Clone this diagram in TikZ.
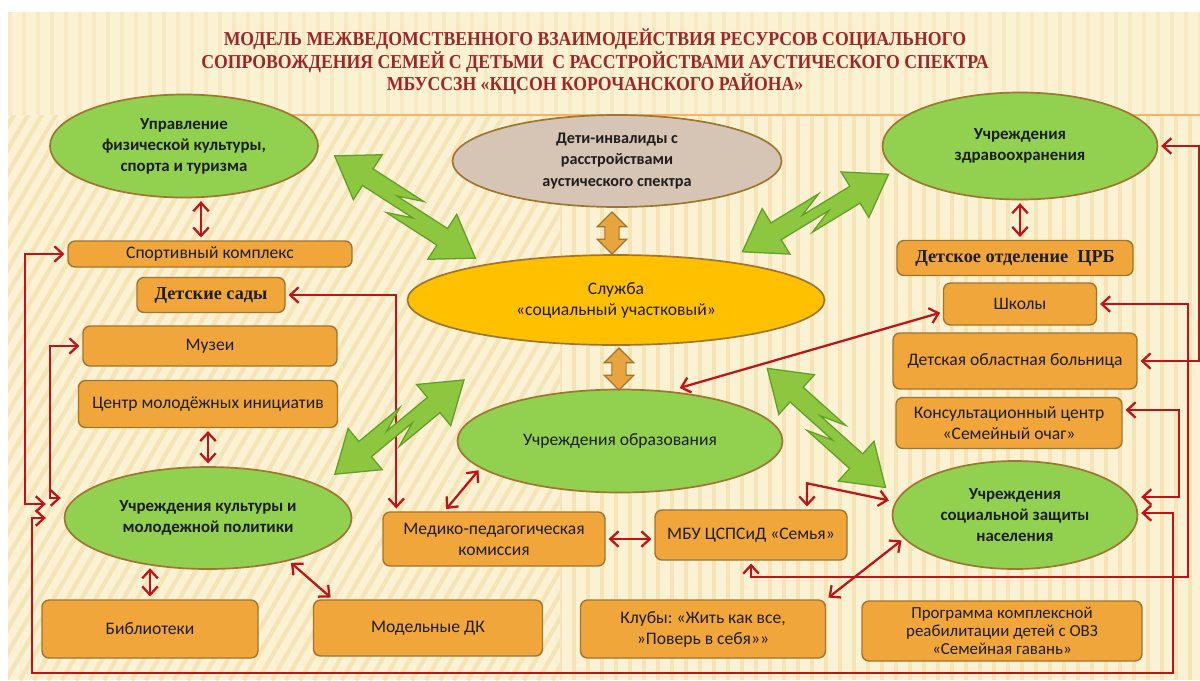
\documentclass[tikz,border=0pt]{standalone}
\usepackage{fontspec}
\setmainfont{Carlito}
\newfontfamily\titlefont[FakeStretch=0.9]{Liberation Serif}
\newfontfamily\boxserif{Liberation Serif}
\usetikzlibrary{shapes.geometric, shapes.arrows, arrows.meta, calc}
\definecolor{bgcream}{RGB}{251,241,211}
\definecolor{stripe}{RGB}{245,228,184}
\definecolor{ellgreen}{RGB}{146,208,80}
\definecolor{rimbrown}{RGB}{158,118,48}
\definecolor{boxorange}{RGB}{240,166,58}
\definecolor{sluzhyellow}{RGB}{255,192,0}
\definecolor{detitaupe}{RGB}{214,196,180}
\definecolor{arrred}{RGB}{190,20,24}
\definecolor{boltgreen}{RGB}{141,198,63}
\definecolor{boltrim}{RGB}{98,158,42}
\definecolor{titlered}{RGB}{158,38,38}
\definecolor{arrorange}{RGB}{232,164,62}
\definecolor{inktext}{RGB}{30,30,30}
\newlength\pxl
\setlength\pxl{0.025cm}

\tikzset{
  ell/.style={ellipse, draw=rimbrown, line width=1.2pt, fill=ellgreen, align=center, inner sep=0pt, text=inktext, font=\fontsize{12.5}{15}\selectfont},
  ellb/.style={ell, font=\bfseries\fontsize{12}{15}\selectfont},
  box/.style={rectangle, rounded corners=5pt, draw=rimbrown, line width=1pt, fill=boxorange, align=center, inner sep=0pt, text=inktext, font=\fontsize{12.5}{15}\selectfont},
  sbox/.style={box, font=\boxserif\bfseries\fontsize{13}{15}\selectfont},
  con/.style={draw=arrred, line width=1.6pt, shorten >=2pt, shorten <=2pt},
  darr/.style={double arrow, rotate=90, draw=rimbrown, line width=0.8pt, fill=arrorange, inner sep=4.2pt, minimum width=21pt, double arrow head extend=5pt},
  bolt/.style={draw=boltrim, line width=0.9pt, fill=boltgreen, line join=miter},
  pics/zig/.style={code={
    \pgfmathsetmacro\bl{#1}
    \pgfmathsetmacro\bm{#1/2}
    \filldraw[bolt, yshift=3.5pt] (0pt,0pt) -- (28pt,19pt) -- (28pt,7pt) -- ({(\bm+9)*1pt},7pt) -- ({(\bm-9)*1pt},0pt) -- ({(\bl-28)*1pt},0pt) -- ({(\bl-28)*1pt},12pt) -- ({\bl*1pt},-7pt) -- ({(\bl-28)*1pt},-26pt) -- ({(\bl-28)*1pt},-14pt) -- ({(\bm-9)*1pt},-14pt) -- ({(\bm+9)*1pt},-7pt) -- (28pt,-7pt) -- (28pt,-19pt) -- cycle;
  }}
}

\begin{document}
\frenchspacing
\begin{tikzpicture}[x=0.025cm, y=-0.025cm, >={Straight Barb[length=6pt,width=11pt]}]
\useasboundingbox (0,0) rectangle (1200,680);
\fill[white] (0,0) rectangle (1200,680);
\fill[bgcream] (8,12) rectangle (1200,680);
\begin{scope}
\clip (8,115) rectangle (560,680);
\foreach \i in {0,...,70}
  \draw[stripe, line width=3pt] ({\i*14-400},680) -- ({\i*14-10},12);
\end{scope}
\begin{scope}
\clip (560,115) rectangle (1200,680);
\foreach \i in {0,...,46}
  \draw[stripe, line width=3pt] ({560+\i*14},115) -- ({560+\i*14},680);
\end{scope}
\begin{scope}
\clip (8,12) rectangle (1200,115);
\foreach \i in {0,...,85}
  \draw[stripe!60!bgcream, line width=3pt] ({10+\i*14},12) -- ({10+\i*14},115);
\end{scope}
\draw[orange!55!bgcream, line width=1pt] (290,115) -- (1200,115);

\node (title)[align=center, text=titlered, font=\titlefont\bfseries\fontsize{14}{14.7}\selectfont] at (595,62){МОДЕЛЬ МЕЖВЕДОМСТВЕННОГО ВЗАИМОДЕЙСТВИЯ РЕСУРСОВ СОЦИАЛЬНОГО\\СОПРОВОЖДЕНИЯ СЕМЕЙ С ДЕТЬМИ~ С РАССТРОЙСТВАМИ АУСТИЧЕСКОГО СПЕКТРА\\МБУССЗН «КЦСОН КОРОЧАНСКОГО РАЙОНА»};

\node (upr)[ellb, minimum width=268\pxl, minimum height=103\pxl] at (184,146){Управление\\физической культуры,\\спорта и туризма};
\node (deti)[ellb, fill=detitaupe, minimum width=329\pxl, minimum height=92\pxl, font=\bfseries\fontsize{11.5}{15}\selectfont] at (617,161){Дети-инвалиды с\\расстройствами\\аустического спектра};
\node (zdrav)[ellb, minimum width=275\pxl, minimum height=107\pxl] at (1020,146){Учреждения\\здравоохранения};
\node (sluzh)[ell, fill=sluzhyellow, minimum width=417\pxl, minimum height=90\pxl] at (616,300){Служба\\«социальный участковый»};
\node (obraz)[ell, minimum width=325\pxl, minimum height=103\pxl] at (620,441){Учреждения образования};
\node (kult)[ellb, minimum width=287\pxl, minimum height=102\pxl] at (208,518){Учреждения культуры и\\молодежной политики};
\node (socz)[ellb, minimum width=245\pxl, minimum height=108\pxl] at (1015,515){Учреждения\\социальной защиты\\населения};

\node (sport)[box, minimum width=284\pxl, minimum height=26\pxl] at (210,254){Спортивный комплекс};
\node (detsad)[sbox, minimum width=148\pxl, minimum height=35\pxl] at (211,295){Детские сады};
\node (muzei)[box, minimum width=254\pxl, minimum height=40\pxl] at (210,346){Музеи};
\node (centr)[box, minimum width=259\pxl, minimum height=47\pxl] at (208,404){Центр молодёжных инициатив};
\node (bibl)[box, minimum width=216\pxl, minimum height=58\pxl] at (150,629){Библиотеки};
\node (dk)[box, minimum width=229\pxl, minimum height=56\pxl] at (428,628){Модельные ДК};
\node (medko)[box, minimum width=222\pxl, minimum height=54\pxl] at (494,539){Медико-педагогическая\\комиссия};
\node (semya)[box, minimum width=192\pxl, minimum height=50\pxl] at (751,535){МБУ ЦСПСиД «Семья»};
\node (kluby)[box, minimum width=245\pxl, minimum height=58\pxl] at (703,629){Клубы: «Жить как все,\\»Поверь в себя»»};
\node (progr)[box, minimum width=280\pxl, minimum height=60\pxl, font=\fontsize{12}{13}\selectfont] at (1002,631){Программа комплексной\\реабилитации детей с ОВЗ\\«Семейная гавань»};
\node (crb)[sbox, minimum width=236\pxl, minimum height=35\pxl] at (1015,258){Детское отделение~ ЦРБ};
\node (shkoly)[box, minimum width=153\pxl, minimum height=42\pxl] at (1020,304){Школы};
\node (bolnica)[box, minimum width=244\pxl, minimum height=56\pxl] at (1015,361){Детская областная больница};
\node (konsult)[box, minimum width=226\pxl, minimum height=51\pxl] at (1009,423){Консультационный центр\\«Семейный очаг»};

\node (dv1)[darr, minimum height=42\pxl] at (612,233){};
\node (dv2)[darr, minimum height=42\pxl] at (619,369){};

\draw[con,<->] (upr.south -| 201,0) -- (sport.north -| 201,0);
\draw[con,<->] (zdrav.south) -- (zdrav.south |- crb.north);
\draw[con,<->] (centr.south) -- (centr.south |- kult.north);
\draw[con,<->] (bibl.north |- kult.219) -- (bibl.north);
\draw[con,<->] (kult.-28) -- ([xshift=20\pxl]dk.north west);
\draw[con,<->] (obraz.191) -- ([xshift=62\pxl]medko.north west);
\draw[con,<->] (medko.east) -- (medko.east -| semya.west);
\draw[con,<->] (kluby.north east) -- (socz.192);
\draw[con,<->] ([xshift=56\pxl]semya.north) -- ++(0,-26) -- ([yshift=14\pxl]socz.west);
\draw[con,<->] (detsad.east) -| ([xshift=14\pxl]medko.north west);
\draw[con,<->] ([xshift=57\pxl]obraz.north) -- ([yshift=-8\pxl]shkoly.west);
\draw[con,<->] (zdrav.east) -- ++(41,0) |- (bolnica.east);
\draw[con,<->] (shkoly.east) -| (1188,577) -| (semya.south);
\draw[con,<->] ([yshift=13\pxl]konsult.east) -- ++(56,0) |- ([yshift=18\pxl]socz.east);
\draw[con,<->] ([yshift=2\pxl]socz.east) -- ++(35,0) |- (32,673) |- ([xshift=-15\pxl]kult.west);
\draw[con,<->] (sport.west) -- (25,254) |- ([shift={(-15\pxl,14\pxl)}]kult.west);
\draw[con,<->] (muzei.west) -- (50,346) |- ([yshift=20\pxl]kult.west);

\coordinate (z1a) at (332,160);
\coordinate (z1b) at (478,254);
\coordinate (z2a) at (745,256);
\coordinate (z2b) at (886,170);
\coordinate (z3a) at (338,478);
\coordinate (z3b) at (461,376);
\coordinate (z4a) at (764,372);
\coordinate (z4b) at (889,484);
\foreach \s/\e in {z1a/z1b, z2a/z2b, z3a/z3b, z4a/z4b}
  \path let \p1=($(\e)-(\s)$), \n1={atan2(\y1,\x1)}, \n2={veclen(\x1,\y1)} in (\s) pic[rotate=\n1] {zig=\n2};

\end{tikzpicture}
\end{document}
